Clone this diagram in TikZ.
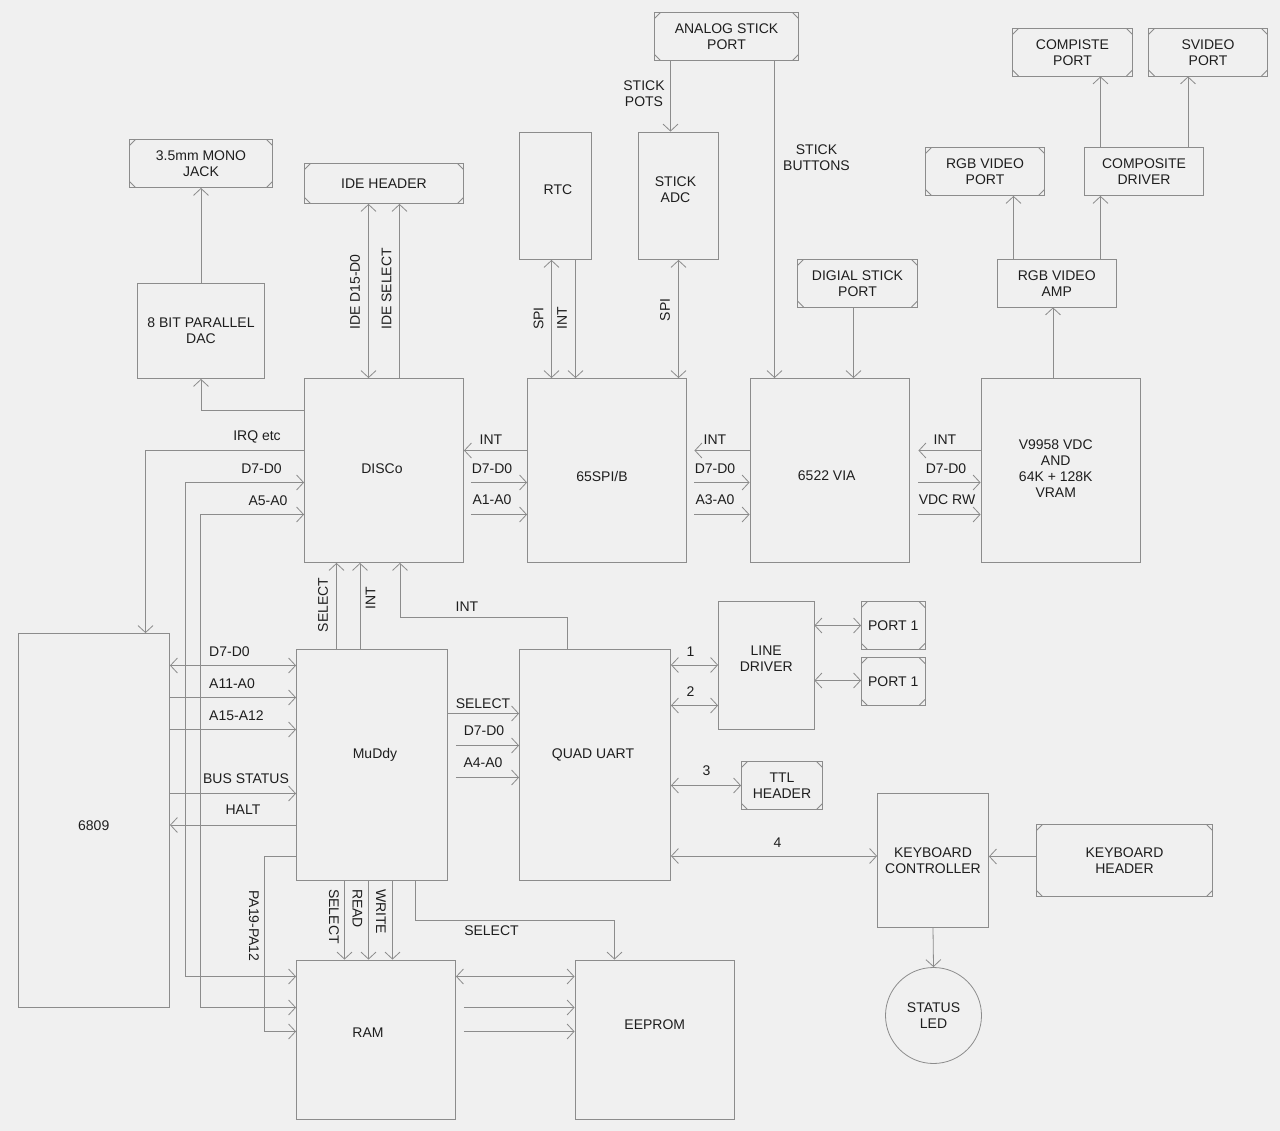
\documentclass[tikz,border=0pt]{standalone}
\usepackage{fontspec}
\setmainfont{Liberation Sans}
\usetikzlibrary{arrows.meta}
\definecolor{bgc}{HTML}{F0F0F0}
\definecolor{linec}{HTML}{8C8C8C}
\definecolor{txtc}{HTML}{1E1E1E}
\begin{document}
\begin{tikzpicture}[x=1pt,y=-1pt,
  every node/.style={font=\fontsize{14pt}{16pt}\selectfont, text=txtc},
  box/.style={draw=linec, line width=0.8pt, inner sep=0pt, align=center},
  port/.style={box, path picture={
    \draw[linec, line width=0.8pt] ([yshift=-6pt]path picture bounding box.north west) -- ([xshift=6pt]path picture bounding box.north west);
    \draw[linec, line width=0.8pt] ([yshift=-6pt]path picture bounding box.north east) -- ([xshift=-6pt]path picture bounding box.north east);
    \draw[linec, line width=0.8pt] ([yshift=6pt]path picture bounding box.south west) -- ([xshift=6pt]path picture bounding box.south west);
    \draw[linec, line width=0.8pt] ([yshift=6pt]path picture bounding box.south east) -- ([xshift=-6pt]path picture bounding box.south east);
  }},
  lbl/.style={inner sep=0pt, align=center},
  conn/.style={draw=linec, line width=0.8pt},
  arr/.style={conn, -{Straight Barb[length=7pt,width=15pt]}},
  arr2/.style={conn, {Straight Barb[length=7pt,width=15pt]}-{Straight Barb[length=7pt,width=15pt]}}]

\fill[bgc] (0,0) rectangle (1280,1131);
\useasboundingbox (0,0) rectangle (1280,1131);

% ---------- nodes ----------
\node[port, minimum width=143pt, minimum height=48pt] (jack) at (201,163.5) {3.5mm MONO\\JACK};
\node[port, minimum width=159pt, minimum height=40pt] (ide) at (384,183.5) {IDE HEADER};
\node[box, minimum width=127pt, minimum height=95pt] (dac) at (201,331) {8 BIT PARALLEL\\DAC};
\node[port, minimum width=144pt, minimum height=48pt] (analog) at (726.5,36.5) {ANALOG STICK\\PORT};
\node[box, minimum width=72pt, minimum height=127.5pt, label={[lbl, shift={(2.5,-6)}]center:RTC}] (rtc) at (555.5,195.75) {};
\node[box, minimum width=80pt, minimum height=127.5pt, label={[lbl, shift={(-3,-6)}]center:STICK\\ADC}] (adc) at (678.5,195.75) {};
\node[port, minimum width=120pt, minimum height=47.5pt] (cport) at (1072.5,52.25) {COMPISTE\\PORT};
\node[port, minimum width=119pt, minimum height=47.5pt] (sport) at (1208,52.25) {SVIDEO\\PORT};
\node[port, minimum width=119pt, minimum height=48pt] (rgbport) at (985,171.5) {RGB VIDEO\\PORT};
\node[box, minimum width=119pt, minimum height=48pt] (cdrv) at (1144,171.5) {COMPOSITE\\DRIVER};
\node[port, minimum width=120pt, minimum height=47.5pt] (dport) at (857.5,283.25) {DIGIAL STICK\\PORT};
\node[box, minimum width=119.5pt, minimum height=47.5pt] (amp) at (1056.75,283.25) {RGB VIDEO\\AMP};

\node[box, minimum width=159pt, minimum height=184pt, label={[lbl, shift={(-2,-2)}]center:DISCo}] (disco) at (384,470.5) {};
\node[box, minimum width=159pt, minimum height=184pt, label={[lbl, shift={(-5,5.5)}]center:65SPI/B}] (spi) at (607,470.5) {};
\node[box, minimum width=159.5pt, minimum height=184pt, label={[lbl, shift={(-3,5.5)}]center:6522 VIA}] (via) at (829.75,470.5) {};
\node[box, minimum width=159.5pt, minimum height=184pt, label={[lbl, shift={(-5,-2)}]center:V9958 VDC\\AND\\64K + 128K\\VRAM}] (vdc) at (1060.75,470.5) {};

\node[box, minimum width=151.5pt, minimum height=374pt, label={[lbl, shift={(0,5.5)}]center:6809}] (cpu) at (93.75,820.5) {};
\node[box, minimum width=151pt, minimum height=230.5pt, label={[lbl, shift={(3,-10)}]center:MuDdy}] (muddy) at (372,764.75) {};
\node[box, minimum width=151pt, minimum height=230.5pt, label={[lbl, shift={(-2,-10)}]center:QUAD UART}] (uart) at (595,764.75) {};
\node[box, minimum width=95.5pt, minimum height=128pt, label={[lbl, shift={(0,-6.5)}]center:LINE\\DRIVER}] (ldrv) at (766.25,665.5) {};
\node[port, minimum width=63.5pt, minimum height=48pt] (p1a) at (893.25,625.5) {PORT 1};
\node[port, minimum width=63.5pt, minimum height=48pt] (p1b) at (893.25,681.5) {PORT 1};
\node[port, minimum width=81pt, minimum height=48pt] (ttl) at (782,785.5) {TTL\\HEADER};
\node[box, minimum width=111pt, minimum height=134pt] (kbc) at (933,860.5) {KEYBOARD\\CONTROLLER};
\node[port, minimum width=176pt, minimum height=72pt] (kbh) at (1124.5,860.5) {KEYBOARD\\HEADER};
\node[box, circle, minimum size=96pt] (led) at (933.5,1015.5) {STATUS\\LED};
\node[box, minimum width=159pt, minimum height=159pt, label={[lbl, shift={(-8,-6.5)}]center:RAM}] (ram) at (376,1039.5) {};
\node[box, minimum width=159.5pt, minimum height=159pt, label={[lbl, shift={(0,-14.5)}]center:EEPROM}] (eeprom) at (654.75,1039.5) {};

% ---------- top connectors ----------
\draw[arr] (dac.north) -- (jack.south);
\draw[arr] (disco.west |- 0,410.5) -| (dac.south);
\draw[arr2] (368.5,0 |- disco.north) -- (368.5,0 |- ide.south);
\draw[arr] (399.5,0 |- disco.north) -- (399.5,0 |- ide.south);
\node[lbl, rotate=90, anchor=west] (l-ided) at (355,330) {IDE D15-D0};
\node[lbl, rotate=90, anchor=west] (l-ides) at (386.5,330) {IDE SELECT};

\draw[arr2] (551.5,0 |- spi.north) -- (551.5,0 |- rtc.south);
\draw[arr] (575.5,0 |- rtc.south) -- (575.5,0 |- spi.north);
\draw[arr2] (678.5,0 |- spi.north) -- (678.5,0 |- adc.south);
\node[lbl, rotate=90, anchor=west] (l-spi1) at (538.5,330) {SPI};
\node[lbl, rotate=90, anchor=west] (l-int1) at (562,330) {INT};
\node[lbl, rotate=90, anchor=west] (l-spi2) at (665,321.5) {SPI};

\draw[arr] (670.5,0 |- analog.south) -- (670.5,0 |- adc.north);
\node[lbl] (l-pots) at (644,94) {STICK\\POTS};
\draw[arr] (774.5,0 |- analog.south) -- (774.5,0 |- via.north);
\node[lbl] (l-btn) at (816.5,158) {STICK\\BUTTONS};
\draw[arr] (853.5,0 |- dport.south) -- (853.5,0 |- via.north);

\draw[arr] (1053,0 |- vdc.north) -- (1053,0 |- amp.south);
\draw[arr] (1013.5,0 |- amp.north) -- (1013.5,0 |- rgbport.south);
\draw[arr] (1100.5,0 |- amp.north) -- (1100.5,0 |- cdrv.south);
\draw[arr] (1100.5,0 |- cdrv.north) -- (1100.5,0 |- cport.south);
\draw[arr] (1188,0 |- cdrv.north) -- (1188,0 |- sport.south);

% ---------- horizontal bus between DISCo / 65SPI / VIA / VDC ----------
\draw[arr] (spi.west |- 0,450.5) -- (disco.east |- 0,450.5);
\draw[arr, shorten <=7pt] (disco.east |- 0,482.5) -- (spi.west |- 0,482.5);
\draw[arr, shorten <=7pt] (disco.east |- 0,514.5) -- (spi.west |- 0,514.5);
\node[lbl] (l-a1) at (491,440) {INT};
\node[lbl] (l-a2) at (492,469) {D7-D0};
\node[lbl] (l-a3) at (492,500) {A1-A0};

\draw[arr, shorten >=7.5pt] (via.west |- 0,450.5) -- (spi.east |- 0,450.5);
\draw[arr, shorten <=7.5pt] (spi.east |- 0,482.5) -- (via.west |- 0,482.5);
\draw[arr, shorten <=7.5pt] (spi.east |- 0,514.5) -- (via.west |- 0,514.5);
\node[lbl] (l-b1) at (715,440) {INT};
\node[lbl] (l-b2) at (715,469) {D7-D0};
\node[lbl] (l-b3) at (715,500) {A3-A0};

\draw[arr, shorten >=8.5pt] (vdc.west |- 0,450.5) -- (via.east |- 0,450.5);
\draw[arr, shorten <=8.5pt] (via.east |- 0,482.5) -- (vdc.west |- 0,482.5);
\draw[arr, shorten <=8.5pt] (via.east |- 0,514.5) -- (vdc.west |- 0,514.5);
\node[lbl] (l-c1) at (945,440) {INT};
\node[lbl] (l-c2) at (946,469) {D7-D0};
\node[lbl] (l-c3) at (947,500) {VDC RW};

% ---------- DISCo left side ----------
\draw[arr] (disco.west |- 0,450.5) -| (cpu.north -| 145.5,0);
\node[lbl] (l-irq) at (257,437) {IRQ etc};
\draw[arr2] (disco.west |- 0,482.5) -| (185,976.5) -- (ram.west |- 0,976.5);
\node[lbl] (l-dd) at (261.5,469) {D7-D0};
\draw[arr] (ram.west |- 0,1007.5) -| (200.5,514.5) -- (disco.west |- 0,514.5);
\draw[arr] (200.5,1007.5) -- (ram.west |- 0,1007.5);
\node[lbl] (l-da) at (268,500.5) {A5-A0};

% ---------- 6809 <-> MuDdy ----------
\draw[arr2] (cpu.east |- 0,665.5) -- (muddy.west |- 0,665.5);
\draw[arr] (cpu.east |- 0,697.5) -- (muddy.west |- 0,697.5);
\draw[arr] (cpu.east |- 0,729.5) -- (muddy.west |- 0,729.5);
\draw[arr] (cpu.east |- 0,793.5) -- (muddy.west |- 0,793.5);
\draw[arr] (muddy.west |- 0,825) -- (cpu.east |- 0,825);
\node[lbl, anchor=west] (l-m1) at (209,652) {D7-D0};
\node[lbl, anchor=west] (l-m2) at (209,684) {A11-A0};
\node[lbl, anchor=west] (l-m3) at (209,716) {A15-A12};
\node[lbl] (l-m4) at (246,779) {BUS STATUS};
\node[lbl] (l-m5) at (243,810) {HALT};

% ---------- MuDdy -> RAM / EEPROM ----------
\draw[arr] (muddy.west |- 0,856) -| (264.5,1031.5) -- (ram.west |- 0,1031.5);
\node[lbl, rotate=-90] (l-pa) at (254,926) {PA19-PA12};
\draw[arr] (344.5,0 |- muddy.south) -- (344.5,0 |- ram.north);
\draw[arr] (368.5,0 |- muddy.south) -- (368.5,0 |- ram.north);
\draw[arr] (392.5,0 |- muddy.south) -- (392.5,0 |- ram.north);
\node[lbl, rotate=-90, anchor=west] (l-rs) at (334,889) {SELECT};
\node[lbl, rotate=-90, anchor=west] (l-rr) at (357.5,889) {READ};
\node[lbl, rotate=-90, anchor=west] (l-rw) at (381,889) {WRITE};
\draw[arr] (415.5,0 |- muddy.south) |- (614.5,920.5) -- (614.5,0 |- eeprom.north);
\node[lbl] (l-es) at (491.5,930.5) {SELECT};
\draw[arr2] (ram.east |- 0,976.5) -- (eeprom.west |- 0,976.5);
\draw[arr, shorten <=8pt] (ram.east |- 0,1007.5) -- (eeprom.west |- 0,1007.5);
\draw[arr, shorten <=8pt] (ram.east |- 0,1031.5) -- (eeprom.west |- 0,1031.5);

% ---------- MuDdy / UART -> DISCo ----------
\draw[arr] (336.5,0 |- muddy.north) -- (336.5,0 |- disco.south);
\draw[arr] (360,0 |- muddy.north) -- (360,0 |- disco.south);
\node[lbl, rotate=90] (l-ms) at (323,605) {SELECT};
\node[lbl, rotate=90] (l-mi) at (370.5,598) {INT};
\draw[arr] (567.5,0 |- uart.north) |- (400,617.5) -- (400,0 |- disco.south);
\node[lbl] (l-ui) at (467,606.5) {INT};

% ---------- MuDdy -> UART ----------
\draw[arr] (muddy.east |- 0,713.5) -- (uart.west |- 0,713.5);
\draw[arr, shorten <=8pt] (muddy.east |- 0,745.5) -- (uart.west |- 0,745.5);
\draw[arr, shorten <=8pt] (muddy.east |- 0,777.5) -- (uart.west |- 0,777.5);
\node[lbl] (l-u1) at (483,703.5) {SELECT};
\node[lbl] (l-u2) at (484,731) {D7-D0};
\node[lbl] (l-u3) at (483,763) {A4-A0};

% ---------- UART right side ----------
\draw[arr2] (uart.east |- 0,665) -- (ldrv.west |- 0,665);
\draw[arr2] (uart.east |- 0,705.5) -- (ldrv.west |- 0,705.5);
\node[lbl] (l-n1) at (690.5,651.5) {1};
\node[lbl] (l-n2) at (690.5,691.5) {2};
\draw[arr2] (ldrv.east |- 0,625.5) -- (p1a.west |- 0,625.5);
\draw[arr2] (ldrv.east |- 0,680.5) -- (p1b.west |- 0,680.5);
\draw[arr2] (uart.east |- 0,785.5) -- (ttl.west);
\node[lbl] (l-n3) at (706.5,771) {3};
\draw[arr2] (uart.east |- 0,856) -- (kbc.west |- 0,856);
\node[lbl] (l-n4) at (777.5,842.5) {4};
\draw[arr] (kbh.west |- 0,856.5) -- (kbc.east |- 0,856.5);
\draw[arr] (kbc.south) -- (led.north);

\end{tikzpicture}
\end{document}
